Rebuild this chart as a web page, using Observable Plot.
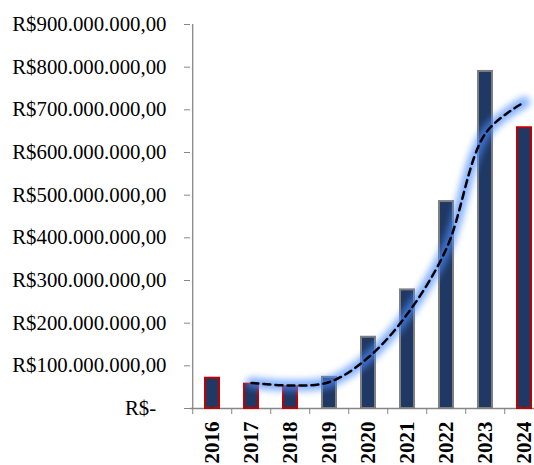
<!DOCTYPE html>
<html><head><meta charset="utf-8">
<script src="https://cdn.jsdelivr.net/npm/d3@7"></script>
<script src="https://cdn.jsdelivr.net/npm/@observablehq/plot@0.6"></script>
<style>
body{margin:0;background:#fff;}
</style></head><body><div id="chart"></div>
<script>
const years = ["2016","2017","2018","2019","2020","2021","2022","2023","2024"];
const values = [71e6, 57e6, 51e6, 73e6, 167e6, 278e6, 485e6, 790e6, 658e6];
const highlightedYears = ["2016","2017","2018","2024"];
const trendYears = ["2017","2018","2019","2020","2021","2022","2023","2024"];
const trendValues = [60e6, 54e6, 62e6, 120e6, 222e6, 375e6, 645e6, 718e6];
const yTicks = [0, 100e6, 200e6, 300e6, 400e6, 500e6, 600e6, 700e6, 800e6, 900e6];

const W = 534, H = 465, ML = 190, MT = 24, MB = 57, MR = -12;
const step = (W - MR - ML) / years.length;
const data = years.map((year, i) => ({year, value: values[i], highlighted: highlightedYears.includes(year)}));
const trend = trendYears.map((year, i) => ({year, value: trendValues[i]}));
const brl = d3.formatLocale({decimal: ",", thousands: ".", grouping: [3], currency: ["R$", ""]}).format("$,.2f");

const plot = Plot.plot({
  width: W, height: H, marginLeft: ML, marginRight: MR, marginTop: MT, marginBottom: MB,
  style: {fontFamily: "'Liberation Serif', 'Times New Roman', serif", fontSize: "21px", color: "#000", background: "#fff", overflow: "hidden"},
  x: {domain: years, paddingInner: 0.64, paddingOuter: 0.32, axis: null},
  y: {domain: [0, 900e6], axis: null},
  marks: [
    Plot.ruleY([0], {stroke: "#868686", strokeWidth: 1.3}),
    Plot.axisY({ticks: yTicks, label: null, tickSize: 6, tickPadding: 18, tickFormat: d => d === 0 ? "R$-\u00a0\u00a0" : brl(d), stroke: "#868686", fill: "#000", fontSize: 20.8}),
    Plot.ruleX([years[0]], {x: d => d, y1: 0, y2: 900e6, dx: -step / 2, stroke: "#868686", strokeWidth: 1.3}),
    Plot.axisX({tickSize: 6, label: null, tickFormat: () => "", dx: -step / 2, stroke: "#868686"}),
    Plot.axisX({tickSize: 0, label: null, tickPadding: 13, tickRotate: -90, fontWeight: "bold", fontSize: 21, fill: "#000"}),
    Plot.barY(data, {x: "year", y: "value", fill: "#1f3864", stroke: d => d.highlighted ? "#c00000" : "#7f7f7f", strokeWidth: 2}),
    Plot.line(trend, {x: "year", y: "value", curve: "catmull-rom", stroke: "#4d8dff", strokeWidth: 11, strokeOpacity: 0.7, strokeLinecap: "round"}),
    Plot.line(trend, {x: "year", y: "value", curve: "catmull-rom", stroke: "#000", strokeWidth: 2.5, strokeDasharray: "7,5"})
  ]
});
d3.select(plot).selectAll('g[aria-label="line"]').filter((d, i) => i === 0).style("filter", "blur(3.5px)");
document.getElementById("chart").appendChild(plot);
</script>
</body></html>
